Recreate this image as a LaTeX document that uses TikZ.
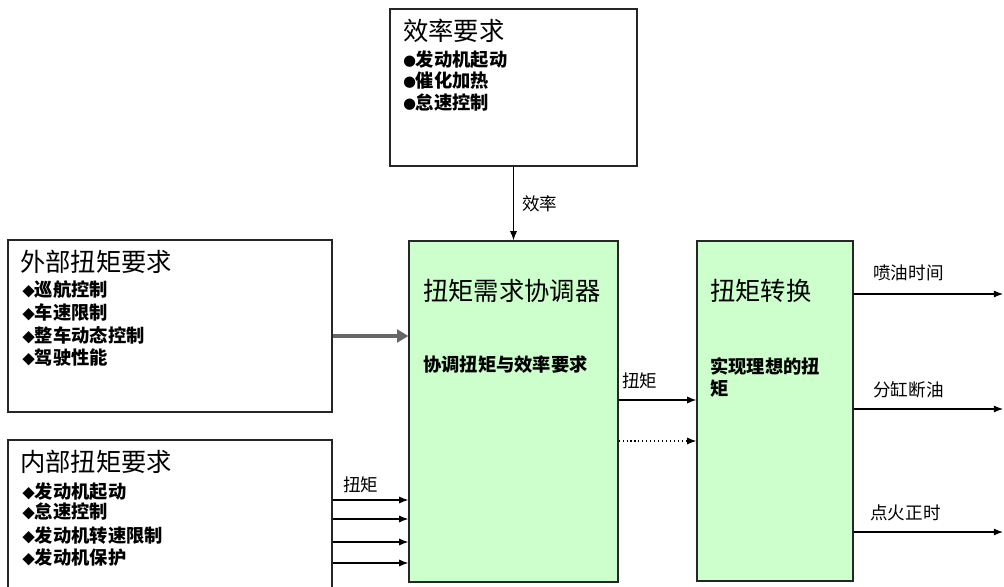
\documentclass[tikz,border=0pt]{standalone}
\usepackage{fontspec}
\setmainfont{Noto Sans CJK SC}
\usetikzlibrary{arrows.meta}
\usetikzlibrary{fit}
\definecolor{boxgreen}{RGB}{204,255,204}
\newcommand{\bdia}{{\fontsize{9}{9}\selectfont ◆}}
\newcommand{\bdot}{{\fontsize{9}{9}\selectfont ●}}

\begin{document}
\begin{tikzpicture}[x=0.025cm,y=-0.025cm,
    box/.style={draw=black!85, line width=0.9pt, inner sep=0pt},
    gbox/.style={box, fill=boxgreen},
    title/.style={anchor=base west, inner sep=0pt, font=\fontsize{18}{21}\selectfont},
    item/.style={anchor=base west, inner sep=0pt, font=\bfseries\fontsize{13}{15.5}\selectfont},
    lbl/.style={anchor=base west, inner sep=0pt, font=\fontsize{12.5}{14}\selectfont},
    sig/.style={-{Latex[length=6.5pt,width=5pt]}, line width=0.8pt}]
        \useasboundingbox (0,0) rectangle (1004,586);
        \clip (0,0) rectangle (1004,586);

        % boxes
        \node[box, fit={(390,9) (637,166)}] (eff) {};
        \node[box, fit={(8,240) (332,412)}] (ext) {};
        \node[box, fit={(8,440) (332,620)}] (int) {};
        \node[gbox, fit={(409,241) (618,582)}] (coord) {};
        \node[gbox, fit={(697,241) (853,581)}] (conv) {};

        % texts in the boxes
        \node[title] (efft) at (403,40) {效率要求};
        \node[item] (eff1) at (403,66) {\bdot 发动机起动};
        \node[item] (eff2) at (403,87) {\bdot 催化加热};
        \node[item] (eff3) at (403,109) {\bdot 怠速控制};

        \node[title] (extt) at (20,271) {外部扭矩要求};
        \node[item] (ext1) at (22,296) {\bdia 巡航控制};
        \node[item] (ext2) at (22,319) {\bdia 车速限制};
        \node[item] (ext3) at (22,342) {\bdia 整车动态控制};
        \node[item] (ext4) at (22,364) {\bdia 驾驶性能};

        \node[title] (intt) at (20,471) {内部扭矩要求};
        \node[item] (int1) at (22,498) {\bdia 发动机起动};
        \node[item] (int2) at (22,518) {\bdia 怠速控制};
        \node[item] (int3) at (22,542) {\bdia 发动机转速限制};
        \node[item] (int4) at (22,564) {\bdia 发动机保护};

        \node[title] (coordt) at (423,300) {扭矩需求协调器};
        \node[item] (coords) at (423,371) {协调扭矩与效率要求};

        \node[title] (convt) at (710,300) {扭矩转换};
        \node[item, align=left, anchor=north west] (convs) at (710,357) {实现理想的扭\\矩};

        % connectors
        \draw[sig] (eff.south) -- (coord.north -| eff.south);
        \node[lbl] (effl) at (522,210) {效率};

        \draw[line width=3pt, black!60, -{Triangle[length=8pt,width=9pt]}] (ext.east |- 0,336) -- (coord.west |- 0,336);

        \foreach \yy in {500,519,542,563}
            \draw[sig] (int.east |- 0,\yy) -- (coord.west |- 0,\yy);
        \node[lbl] (intl) at (343,491) {扭矩};

        \draw[sig] (coord.east |- 0,400) -- (conv.west |- 0,400);
        \node[lbl] (torql) at (622,387) {扭矩};
        \draw[sig, dotted] (coord.east |- 0,441) -- (conv.west |- 0,441);

        \coordinate (o1) at (1003,294);
        \coordinate (o2) at (1003,409);
        \coordinate (o3) at (1003,532);
        \draw[sig] (conv.east |- o1) -- (o1);
        \draw[sig] (conv.east |- o2) -- (o2);
        \draw[sig] (conv.east |- o3) -- (o3);
        \node[lbl] (out1) at (873,279) {喷油时间};
        \node[lbl] (out2) at (873,396) {分缸断油};
        \node[lbl] (out3) at (870,519) {点火正时};
\end{tikzpicture}
\end{document}
